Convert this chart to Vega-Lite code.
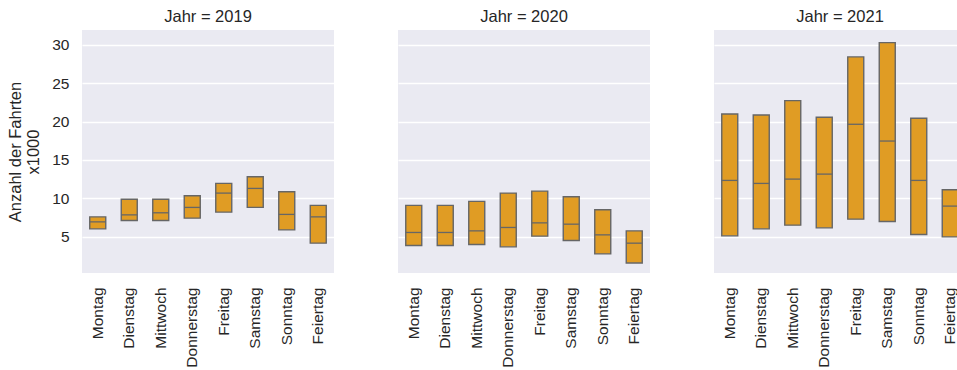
{
  "$schema": "https://vega.github.io/schema/vega-lite/v6.json",
  "background": "white",
  "padding": {"left": 7, "top": 8, "right": 0, "bottom": 0},
  "config": {
    "font": "Liberation Sans",
    "view": {"fill": "#EAEAF2", "stroke": null},
    "axis": {"domain": false, "ticks": false, "labelColor": "#262626", "titleColor": "#262626", "labelFontSize": 15.5, "titleFontSize": 16.5, "titleFontWeight": "normal", "gridColor": "white", "gridWidth": 1.3},
    "header": {"labelFontSize": 16.5, "labelColor": "#262626"}
  },
  "data": {
    "values": [
      {"Jahr": 2019, "Tag": "Montag", "q1": 6.04, "med": 6.95, "q3": 7.6},
      {"Jahr": 2019, "Tag": "Dienstag", "q1": 7.13, "med": 7.86, "q3": 9.9},
      {"Jahr": 2019, "Tag": "Mittwoch", "q1": 7.13, "med": 8.13, "q3": 9.9},
      {"Jahr": 2019, "Tag": "Donnerstag", "q1": 7.43, "med": 8.83, "q3": 10.34},
      {"Jahr": 2019, "Tag": "Freitag", "q1": 8.22, "med": 10.69, "q3": 11.95},
      {"Jahr": 2019, "Tag": "Samstag", "q1": 8.83, "med": 11.3, "q3": 12.81},
      {"Jahr": 2019, "Tag": "Sonntag", "q1": 5.91, "med": 7.92, "q3": 10.86},
      {"Jahr": 2019, "Tag": "Feiertag", "q1": 4.18, "med": 7.6, "q3": 9.09},
      {"Jahr": 2020, "Tag": "Montag", "q1": 3.88, "med": 5.57, "q3": 9.09},
      {"Jahr": 2020, "Tag": "Dienstag", "q1": 3.88, "med": 5.57, "q3": 9.09},
      {"Jahr": 2020, "Tag": "Mittwoch", "q1": 4.01, "med": 5.78, "q3": 9.61},
      {"Jahr": 2020, "Tag": "Donnerstag", "q1": 3.7, "med": 6.22, "q3": 10.69},
      {"Jahr": 2020, "Tag": "Freitag", "q1": 5.09, "med": 6.82, "q3": 10.95},
      {"Jahr": 2020, "Tag": "Samstag", "q1": 4.53, "med": 6.65, "q3": 10.21},
      {"Jahr": 2020, "Tag": "Sonntag", "q1": 2.79, "med": 5.26, "q3": 8.52},
      {"Jahr": 2020, "Tag": "Feiertag", "q1": 1.61, "med": 4.18, "q3": 5.78},
      {"Jahr": 2021, "Tag": "Montag", "q1": 5.13, "med": 12.34, "q3": 20.98},
      {"Jahr": 2021, "Tag": "Dienstag", "q1": 6.04, "med": 11.95, "q3": 20.85},
      {"Jahr": 2021, "Tag": "Mittwoch", "q1": 6.52, "med": 12.51, "q3": 22.71},
      {"Jahr": 2021, "Tag": "Donnerstag", "q1": 6.17, "med": 13.16, "q3": 20.55},
      {"Jahr": 2021, "Tag": "Freitag", "q1": 7.3, "med": 19.64, "q3": 28.4},
      {"Jahr": 2021, "Tag": "Samstag", "q1": 7.0, "med": 17.46, "q3": 30.26},
      {"Jahr": 2021, "Tag": "Sonntag", "q1": 5.31, "med": 12.34, "q3": 20.42},
      {"Jahr": 2021, "Tag": "Feiertag", "q1": 5.0, "med": 9.0, "q3": 11.12}
    ]
  },
  "facet": {
    "column": {
      "field": "Jahr",
      "type": "ordinal",
      "title": null,
      "header": {"labelExpr": "'Jahr = ' + datum.value", "labelPadding": 5}
    }
  },
  "spacing": 64,
  "spec": {
    "width": 252,
    "height": 243,
    "encoding": {
      "x": {
        "field": "Tag",
        "type": "nominal",
        "sort": ["Montag", "Dienstag", "Mittwoch", "Donnerstag", "Freitag", "Samstag", "Sonntag", "Feiertag"],
        "title": null,
        "axis": {"labelAngle": -90, "labelPadding": 14, "grid": false}
      }
    },
    "layer": [
      {
        "mark": {"type": "bar", "size": 16, "fill": "#E09C24", "stroke": "#666666", "strokeWidth": 1.4},
        "encoding": {
          "y": {
            "field": "q1",
            "type": "quantitative",
            "scale": {"domain": [0.3, 31.9], "nice": false, "zero": false},
            "axis": {"values": [5, 10, 15, 20, 25, 30], "labelPadding": 13, "title": ["Anzahl der Fahrten", "x1000"], "titlePadding": 10}
          },
          "y2": {"field": "q3"}
        }
      },
      {
        "mark": {"type": "tick", "size": 16, "thickness": 1.3, "color": "#666666", "opacity": 1},
        "encoding": {"y": {"field": "med", "type": "quantitative"}}
      }
    ]
  }
}
